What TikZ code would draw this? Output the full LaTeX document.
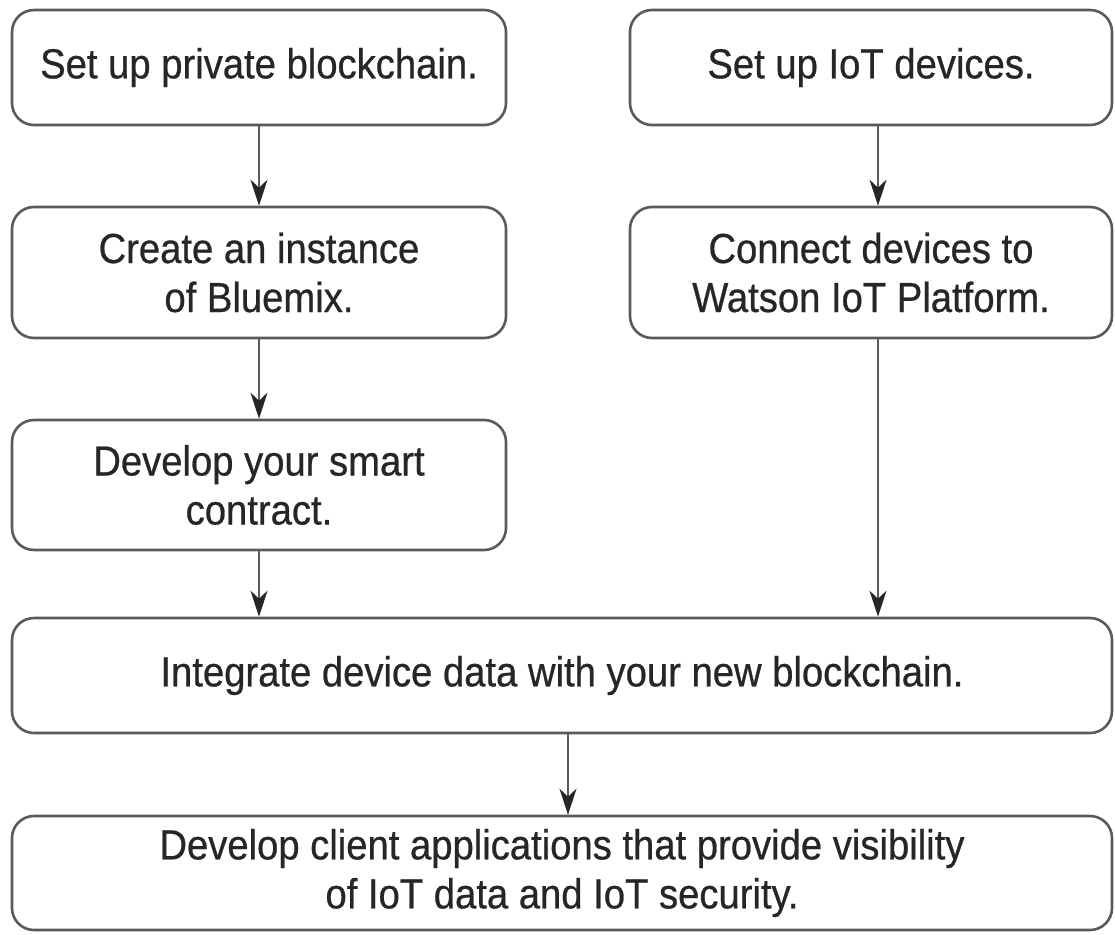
\documentclass[tikz,border=0pt]{standalone}
\usepackage{fontspec}
\setmainfont{Liberation Sans}[FakeStretch=0.91, FakeBold=0.6]
\usetikzlibrary{arrows.meta}
\definecolor{edge}{HTML}{5A5A5A}
\definecolor{ink}{HTML}{262626}
\tikzset{
  stepbox/.style={draw=edge, line width=2.6pt, rounded corners=22pt, align=center,
    text=ink, font=\fontsize{42}{49}\selectfont, inner sep=0pt},
  arr/.style={draw=edge, line width=2.4pt, -{Stealth[length=26pt,width=17pt,inset=8pt,color=ink]}}
}
\begin{document}
\begin{tikzpicture}[x=1pt,y=1pt]
\useasboundingbox (0,0) rectangle (1115,-934);
\node[stepbox, minimum width=494pt, minimum height=115pt] (b1) at (259,-67.5) {Set up private blockchain.};
\node[stepbox, minimum width=482pt, minimum height=115pt] (b2) at (871,-67.5) {Set up IoT devices.};
\node[stepbox, minimum width=494pt, minimum height=131pt] (b3) at (259,-272.5) {Create an instance\\of Bluemix.};
\node[stepbox, minimum width=482pt, minimum height=131pt] (b4) at (871,-272.5) {Connect devices to\\Watson IoT Platform.};
\node[stepbox, minimum width=494pt, minimum height=130pt] (b5) at (259,-485) {Develop your smart\\contract.};
\node[stepbox, minimum width=1100pt, minimum height=115pt] (b6) at (562,-675.5) {Integrate device data with your new blockchain.};
\node[stepbox, minimum width=1100pt, minimum height=114pt] (b7) at (562,-873) {Develop client applications that provide visibility\\of IoT data and IoT security.};
\draw[arr] (b1.south) -- (b3.north);
\draw[arr] (b3.south) -- (b5.north);
\draw[arr] ([xshift=7pt]b2.south) -- ([xshift=7pt]b4.north);
\draw[arr] ([xshift=7pt]b4.south) -- ([xshift=7pt]b4.south |- b6.north);
\draw[arr] (b5.south) -- (b5.south |- b6.north);
\draw[arr] ([xshift=6pt]b6.south) -- ([xshift=6pt]b7.north);
\end{tikzpicture}
\end{document}
